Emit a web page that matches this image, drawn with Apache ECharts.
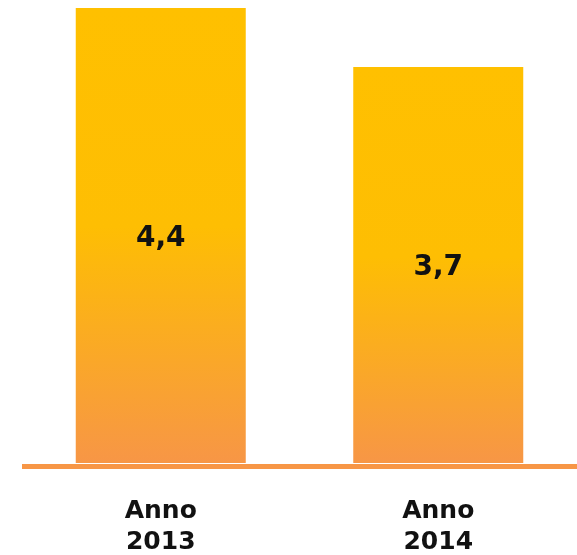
<!DOCTYPE html>
<html><head><meta charset="utf-8">
<script src="https://cdn.jsdelivr.net/npm/echarts@6/dist/echarts.min.js"></script>
<style>html,body{margin:0;padding:0;background:#fff}#c{width:577px;height:555px}</style>
</head><body><div id="c"></div>
<script>
var categories = ['Anno\n2013', 'Anno\n2014'];
var values = [4.4, 3.7];
var axisMin = -1;
var axisMax = 4.4;

var chart = echarts.init(document.getElementById('c'));
var grad = new echarts.graphic.LinearGradient(0, 0, 0, 1, [
  {offset: 0, color: '#FFC000'},
  {offset: 0.48, color: '#FEBE03'},
  {offset: 1, color: '#F79646'}
]);
chart.setOption({
  animation: false,
  grid: {left: 22, right: 0, top: 8, bottom: 92, outerBoundsMode: 'none', containLabel: false},
  xAxis: {
    type: 'category', data: categories, offset: 3,
    axisLine: {onZero: false, lineStyle: {color: '#F79646', width: 5, cap: 'butt'}},
    axisTick: {show: false},
    axisLabel: {fontFamily: 'DejaVu Sans', fontWeight: 'bold', fontSize: 25, lineHeight: 31, color: '#111', margin: 30}
  },
  yAxis: {type: 'value', min: axisMin, max: axisMax, show: false, splitLine: {show: false}},
  series: [{
    type: 'custom',
    data: values.map(function (v, i) { return [i, v]; }),
    encode: {x: 0, y: 1},
    renderItem: function (params, api) {
      var top = api.coord([api.value(0), api.value(1)]);
      var base = api.coord([api.value(0), axisMin]);
      var w = 170;
      var v = api.value(1);
      return {
        type: 'group',
        children: [{
          type: 'rect',
          shape: {x: top[0] - w / 2, y: top[1], width: w, height: base[1] - top[1]},
          style: {fill: grad}
        }, {
          type: 'text',
          x: top[0], y: (top[1] + base[1]) / 2 + 3,
          style: {text: String(v).replace('.', ','), fill: '#111', font: 'bold 28px "DejaVu Sans"', align: 'center', verticalAlign: 'middle'}
        }]
      };
    }
  }]
});
</script></body></html>
